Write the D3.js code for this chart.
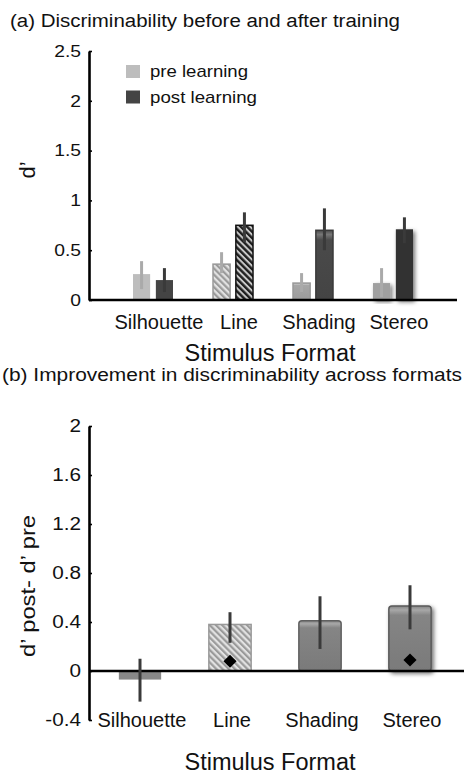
<!DOCTYPE html>
<html>
<head>
<meta charset="utf-8">
<script src="https://cdn.jsdelivr.net/npm/d3@7"></script>
<style>
  body { margin: 0; background: #fff; }
  text { font-family: "Liberation Sans", Arial, Helvetica, sans-serif; fill: #111; }
</style>
</head>
<body>
<div id="chart"></div>
<script>
// data
var formats = ["Silhouette", "Line", "Shading", "Stereo"];
var series = ["pre", "post"];
var seriesLabels = ["pre learning", "post learning"];

var preVals = [0.26, 0.36, 0.17, 0.17];
var preLo   = [0.11, 0.27, 0.08, 0.03];
var preHi   = [0.39, 0.48, 0.27, 0.32];
var postVals = [0.20, 0.75, 0.70, 0.71];
var postLo   = [0.08, 0.58, 0.50, 0.57];
var postHi   = [0.32, 0.88, 0.92, 0.83];

var diffVals = [-0.07, 0.38, 0.41, 0.53];
var diffLo   = [-0.25, 0.23, 0.18, 0.34];
var diffHi   = [0.10, 0.48, 0.61, 0.70];
var diffMark = [null, 0.08, null, 0.09];

var ticksA = [0, 0.5, 1, 1.5, 2, 2.5];
var ticksB = [-0.4, 0, 0.4, 0.8, 1.2, 1.6, 2];

var W = 464, H = 777;
var svg = d3.select("#chart").append("svg")
	.attr("width", W)
	.attr("height", H);
svg.append("rect").attr("width", W).attr("height", H).attr("fill", "#fff");

var defs = svg.append("defs");

function hatch(id, bg, fg, size, lw) {
	var p = defs.append("pattern")
		.attr("id", id)
		.attr("patternUnits", "userSpaceOnUse")
		.attr("width", size).attr("height", size)
		.attr("patternTransform", "rotate(-45)");
	p.append("rect").attr("width", size).attr("height", size).attr("fill", bg);
	p.append("rect").attr("width", lw).attr("height", size).attr("fill", fg);
}
hatch("hatchLight", "#e2e2e2", "#9a9a9a", 4.4, 2.2);
hatch("hatchDark", "#c8c8c8", "#1e1e1e", 4.4, 2.4);

function shade(id, top, mid, bot) {
	var gr = defs.append("linearGradient").attr("id", id)
		.attr("x1", 0).attr("y1", 0).attr("x2", 0).attr("y2", 1);
	gr.append("stop").attr("offset", "0%").attr("stop-color", mid);
	gr.append("stop").attr("offset", "6%").attr("stop-color", top);
	gr.append("stop").attr("offset", "14%").attr("stop-color", mid);
	gr.append("stop").attr("offset", "100%").attr("stop-color", bot);
}
shade("shadeLight", "#c4c4c4", "#a6a6a6", "#9c9c9c");
shade("shadeDark", "#777", "#4a4a4a", "#444");
shade("shadeMid", "#a8a8a8", "#858585", "#7a7a7a");

var blur = defs.append("filter").attr("id", "stereoBlur")
	.attr("x", "-40%").attr("y", "-20%").attr("width", "180%").attr("height", "140%");
blur.append("feDropShadow")
	.attr("dx", 2).attr("dy", 2).attr("stdDeviation", 2.2)
	.attr("flood-color", "#000").attr("flood-opacity", 0.55);

// look of each format's bar (pre, post, difference)
var barStyle = {
	Silhouette: [{ fill: "#bdbdbd" }, { fill: "#444" }, { fill: "#888" }],
	Line: [{ fill: "url(#hatchLight)", stroke: "#999" }, { fill: "url(#hatchDark)", stroke: "#111" }, { fill: "url(#hatchLight)", stroke: "#999" }],
	Shading: [{ fill: "url(#shadeLight)", stroke: "#999" }, { fill: "url(#shadeDark)", stroke: "#3a3a3a" }, { fill: "url(#shadeMid)", stroke: "#606060", rx: 3 }],
	Stereo: [{ fill: "#a0a0a0", filter: "url(#stereoBlur)" }, { fill: "#333", filter: "url(#stereoBlur)" }, { fill: "url(#shadeMid)", stroke: "#5a5a5a", rx: 3, filter: "url(#stereoBlur)" }]
};
var errColor = ["#aaa", "#3a3a3a"];

function label(g, x, y, s, size, anchor, len, rot) {
	var t = g.append("text")
		.attr("transform", "translate(" + x + "," + y + ")" + (rot ? " rotate(-90)" : ""))
		.attr("font-size", size)
		.attr("text-anchor", anchor || "start")
		.text(s);
	if (len) t.attr("textLength", len).attr("lengthAdjust", "spacingAndGlyphs");
	return t;
}

var fmtTick = d => String(+d.toFixed(2));

function yAxis(g, y, ticks, x0, size, sx) {
	var ax = g.append("g")
		.attr("transform", "translate(" + x0 + ",0)")
		.call(d3.axisLeft(y).tickValues(ticks).tickSizeInner(-3).tickSizeOuter(0).tickPadding(0)
			.tickFormat(fmtTick));
	ax.select(".domain").attr("stroke", "#000").attr("stroke-width", 2.6);
	ax.selectAll(".tick line").attr("stroke", "#000").attr("stroke-width", 1.6);
	ax.selectAll(".tick text")
		.attr("font-size", size)
		.attr("fill", "#111")
		.attr("x", -8 / sx)
		.attr("transform", "scale(" + sx + ",1)")
		.attr("font-family", "Liberation Sans, Arial, sans-serif");
	return ax;
}

function catAxis(g, x, yBase, size, dx) {
	var ax = g.append("g")
		.attr("transform", "translate(" + dx + "," + yBase + ")")
		.call(d3.axisBottom(x).tickSize(0).tickPadding(0));
	ax.select(".domain").remove();
	ax.selectAll(".tick text")
		.attr("dy", 0).attr("y", 0)
		.attr("font-size", size)
		.attr("fill", "#111")
		.attr("font-family", "Liberation Sans, Arial, sans-serif");
}

function errBar(g, x, lo, hi, y, col) {
	g.append("line")
		.attr("x1", x).attr("x2", x)
		.attr("y1", y(lo)).attr("y2", y(hi))
		.attr("stroke", col).attr("stroke-width", 3);
}

// ---------- panel (a) ----------
var ga = svg.append("g");
label(ga, 10, 27, "(a) Discriminability before and after training", 18, "start", 390);

var ya = d3.scaleLinear().domain([0, 2.5]).range([300, 51]);
var xa = d3.scaleBand().domain(formats).range([113, 433]);
var xa1 = d3.scaleBand().domain(series).range([-20, 20]).paddingInner(0.25);

var preData = formats.map((f, i) => ({ f: f, s: 0, v: preVals[i], lo: preLo[i], hi: preHi[i] }));
var postData = formats.map((f, i) => ({ f: f, s: 1, v: postVals[i], lo: postLo[i], hi: postHi[i] }));
var dataA = preData.concat(postData);

dataA.forEach(d => {
	var cx = xa(d.f) + xa.bandwidth() / 2 + xa1(series[d.s]);
	var st = barStyle[d.f][d.s];
	var r = ga.append("rect")
		.attr("x", cx).attr("width", xa1.bandwidth())
		.attr("y", ya(d.v)).attr("height", ya(0) - ya(d.v))
		.attr("fill", st.fill);
	if (st.stroke) r.attr("stroke", st.stroke).attr("stroke-width", 1.5);
	if (st.filter) r.attr("filter", st.filter);
	errBar(ga, cx + xa1.bandwidth() / 2, d.lo, d.hi, ya, errColor[d.s]);
});

ga.append("line")
	.attr("x1", 89).attr("x2", 457)
	.attr("y1", ya(0)).attr("y2", ya(0))
	.attr("stroke", "#000").attr("stroke-width", 2.6);
yAxis(ga, ya, ticksA, 89, 16.5, 1.17);
catAxis(ga, xa, 329, 20, 6);
label(ga, 270, 361, "Stimulus Format", 23.5, "middle");
label(ga, 35, 170, "d’", 22, "middle", null, true);

// legend
var legColors = ["#bdbdbd", "#444"];
var leg = ga.append("g");
seriesLabels.forEach((s, i) => {
	leg.append("rect")
		.attr("x", 126).attr("y", 65 + i * 25.5)
		.attr("width", 14).attr("height", 13)
		.attr("fill", legColors[i]);
	label(leg, 150, 77 + i * 26, s, 17, "start", i === 0 ? 98 : 107);
});

// ---------- panel (b) ----------
var gb = svg.append("g");
label(gb, 2, 381, "(b) Improvement in discriminability across formats", 18, "start", 460);

var yb = d3.scaleLinear().domain([-0.4, 2]).range([720, 426]);
var xb = d3.scaleBand().domain(formats).range([95, 455]).paddingInner(0.53).paddingOuter(0.265);

formats.forEach((f, i) => {
	var st = barStyle[f][2];
	var v = diffVals[i];
	var r = gb.append("rect")
		.attr("x", xb(f)).attr("width", xb.bandwidth())
		.attr("y", yb(Math.max(0, v)))
		.attr("height", Math.abs(yb(v) - yb(0)))
		.attr("fill", st.fill);
	if (st.stroke) r.attr("stroke", st.stroke).attr("stroke-width", 1.5);
	if (st.rx) r.attr("rx", st.rx);
	if (st.filter) r.attr("filter", st.filter);
});

gb.append("line")
	.attr("x1", 89).attr("x2", 464)
	.attr("y1", yb(0)).attr("y2", yb(0))
	.attr("stroke", "#000").attr("stroke-width", 2.6);

formats.forEach((f, i) => {
	var cx = xb(f) + xb.bandwidth() / 2;
	errBar(gb, cx, diffLo[i], diffHi[i], yb, "#3a3a3a");
	if (diffMark[i] !== null) {
		gb.append("path")
			.attr("d", d3.symbol(d3.symbolDiamond2, 110)())
			.attr("transform", "translate(" + cx + "," + yb(diffMark[i]) + ")")
			.attr("fill", "#000");
	}
});

yAxis(gb, yb, ticksB, 89, 18.5, 1.12);
catAxis(gb, xb, 727, 20, 2);
label(gb, 270, 770, "Stimulus Format", 23.5, "middle");
label(gb, 35, 586, "d’ post- d’ pre", 21, "middle", 142, true);
</script>
</body>
</html>
